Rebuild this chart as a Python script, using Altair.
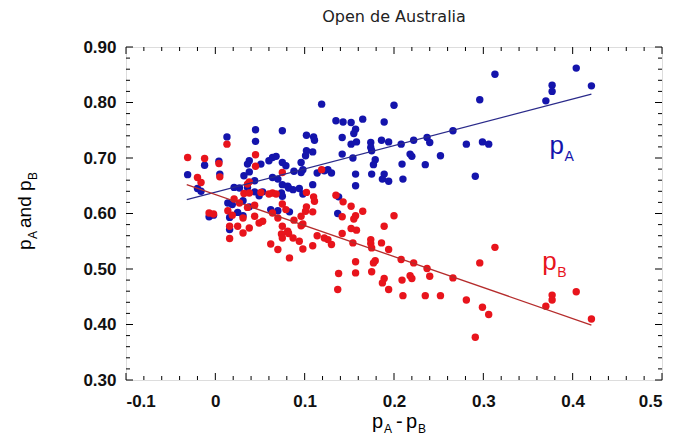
import altair as alt
import pandas as pd

TITLE = "Open de Australia"

# x = pA - pB, pA (blue), pB (red) for each match
diff = [0.313, 0.404, 0.421, 0.377, 0.377, 0.370, 0.296, 0.119, 0.200, 0.135,
        0.143, 0.152, 0.165, 0.189, 0.157, 0.155, 0.102, 0.110, 0.111, 0.142,
        0.152, 0.158, 0.174, 0.186, 0.194, 0.208, 0.222, 0.237, 0.240, 0.266,
        0.281, 0.299, 0.306, 0.174, 0.175, 0.102, 0.109, 0.101, 0.142, 0.154,
        0.179, 0.177, 0.218, 0.220, 0.252, 0.209, 0.235, 0.096, 0.098, 0.122,
        0.130, 0.114, 0.157, 0.175, 0.189, 0.187, 0.194, 0.210, 0.291, 0.157,
        0.109, 0.094, 0.098, 0.138, 0.137, 0.126,
        -0.031, -0.012, 0.004, 0.005, -0.020, -0.016, 0.013, 0.045, 0.045, 0.075,
        0.038, 0.036, 0.032, 0.038, 0.051, 0.064, 0.068, 0.060, 0.079, 0.075,
        0.088, 0.096, 0.064, 0.070, 0.044, 0.082, 0.087, 0.075, 0.081, 0.027,
        0.021, 0.036, 0.074, 0.075, 0.062, 0.070, 0.083, 0.049, 0.053, 0.031,
        0.031, 0.038, 0.016, 0.025, 0.016, -0.007, -0.002, 0.014, 0.019, 0.044]
p_A = [0.851, 0.862, 0.830, 0.831, 0.820, 0.803, 0.805, 0.797, 0.795, 0.767,
       0.765, 0.764, 0.770, 0.765, 0.752, 0.744, 0.741, 0.738, 0.732, 0.737,
       0.725, 0.729, 0.728, 0.732, 0.729, 0.725, 0.732, 0.737, 0.728, 0.749,
       0.725, 0.729, 0.725, 0.719, 0.713, 0.713, 0.711, 0.704, 0.707, 0.700,
       0.697, 0.688, 0.707, 0.703, 0.704, 0.689, 0.688, 0.692, 0.679, 0.677,
       0.673, 0.673, 0.671, 0.671, 0.671, 0.662, 0.658, 0.662, 0.667, 0.650,
       0.652, 0.645, 0.635, 0.630, 0.600, 0.679,
       0.670, 0.687, 0.694, 0.671, 0.645, 0.640, 0.738, 0.751, 0.730, 0.749,
       0.695, 0.689, 0.668, 0.675, 0.689, 0.701, 0.703, 0.695, 0.686, 0.692,
       0.676, 0.674, 0.665, 0.662, 0.659, 0.646, 0.643, 0.652, 0.649, 0.646,
       0.647, 0.647, 0.637, 0.631, 0.607, 0.605, 0.603, 0.632, 0.639, 0.623,
       0.596, 0.612, 0.593, 0.602, 0.571, 0.594, 0.597, 0.619, 0.616, 0.639]
p_B = [0.539, 0.459, 0.410, 0.453, 0.444, 0.433, 0.511, 0.679, 0.596, 0.633,
       0.621, 0.613, 0.604, 0.577, 0.596, 0.590, 0.638, 0.630, 0.622, 0.594,
       0.573, 0.570, 0.553, 0.547, 0.535, 0.517, 0.511, 0.501, 0.487, 0.484,
       0.444, 0.431, 0.418, 0.546, 0.538, 0.612, 0.603, 0.604, 0.564, 0.547,
       0.515, 0.511, 0.488, 0.483, 0.452, 0.480, 0.452, 0.595, 0.581, 0.556,
       0.544, 0.560, 0.513, 0.495, 0.483, 0.475, 0.463, 0.452, 0.377, 0.493,
       0.542, 0.550, 0.536, 0.492, 0.463, 0.553,
       0.701, 0.699, 0.690, 0.666, 0.665, 0.656, 0.725, 0.706, 0.685, 0.674,
       0.657, 0.653, 0.636, 0.637, 0.638, 0.637, 0.635, 0.635, 0.607, 0.617,
       0.588, 0.578, 0.601, 0.592, 0.615, 0.564, 0.556, 0.577, 0.568, 0.619,
       0.626, 0.611, 0.563, 0.556, 0.545, 0.535, 0.520, 0.583, 0.586, 0.592,
       0.565, 0.574, 0.577, 0.577, 0.555, 0.601, 0.599, 0.605, 0.597, 0.595]

# fitted lines (end points)
line_x = [-0.032, 0.421]
line_pA = [0.625, 0.815]
line_pB = [0.652, 0.399]

# in-plot labels
lab_x = [0.374, 0.366]
lab_y = [0.707, 0.498]

x_ticks = [-0.1, 0.0, 0.1, 0.2, 0.3, 0.4, 0.5]
y_ticks = [0.30, 0.40, 0.50, 0.60, 0.70, 0.80, 0.90]
x_minor = [-0.08, -0.06, -0.04, -0.02, 0.02, 0.04, 0.06, 0.08, 0.12, 0.14, 0.16, 0.18,
           0.22, 0.24, 0.26, 0.28, 0.32, 0.34, 0.36, 0.38, 0.42, 0.44, 0.46, 0.48]
y_minor = [0.32, 0.34, 0.36, 0.38, 0.42, 0.44, 0.46, 0.48, 0.52, 0.54, 0.56, 0.58,
           0.62, 0.64, 0.66, 0.68, 0.72, 0.74, 0.76, 0.78, 0.82, 0.84, 0.86, 0.88]

W, H = 536, 333
BLUE = "#1414ac"
RED = "#e8141c"
BLUE_LINE = "#2a2a8a"
RED_LINE = "#b52c2c"
FONT = "Liberation Sans"

pts = pd.DataFrame({"d": diff, "pA": p_A, "pB": p_B})
lines = pd.DataFrame({"d": line_x, "pA": line_pA, "pB": line_pB})

xs = alt.Scale(domain=[-0.1, 0.5], nice=False, zero=False)
ys = alt.Scale(domain=[0.3, 0.9], nice=False, zero=False)

x_axis = alt.Axis(values=x_ticks, title=None, ticks=False, domain=False, grid=False,
                  labelFont=FONT, labelFontSize=17, labelFontWeight="bold",
                  labelColor="#111111", labelPadding=13,
                  labelExpr="abs(datum.value) < 1e-9 ? '0' : (datum.value < 0 ? '-' + format(-datum.value, '.1f') : format(datum.value, '.1f'))")
y_axis = alt.Axis(values=y_ticks, title=None, ticks=False, domain=False, grid=False,
                  labelFont=FONT, labelFontSize=17, labelFontWeight="bold",
                  labelColor="#111111", labelPadding=10, format=".2f")

blue_pts = alt.Chart(pts).mark_circle(size=55, opacity=1, color=BLUE).encode(
    x=alt.X("d:Q", scale=xs, axis=x_axis),
    y=alt.Y("pA:Q", scale=ys, axis=y_axis),
)
red_pts = alt.Chart(pts).mark_circle(size=55, opacity=1, color=RED).encode(
    x=alt.X("d:Q", scale=xs), y=alt.Y("pB:Q", scale=ys)
)
blue_line = alt.Chart(lines).mark_line(color=BLUE_LINE, strokeWidth=1.3).encode(
    x=alt.X("d:Q", scale=xs), y=alt.Y("pA:Q", scale=ys)
)
red_line = alt.Chart(lines).mark_line(color=RED_LINE, strokeWidth=1.3).encode(
    x=alt.X("d:Q", scale=xs), y=alt.Y("pB:Q", scale=ys)
)

# ticks on all four sides, pointing inward
xt_major = pd.DataFrame({"v": x_ticks})
xt_minor = pd.DataFrame({"v": x_minor})
yt_major = pd.DataFrame({"v": y_ticks})
yt_minor = pd.DataFrame({"v": y_minor})


def xticks(df, ln):
    bottom = alt.Chart(df).mark_rule(color="black", strokeWidth=1).encode(
        x=alt.X("v:Q", scale=xs), y=alt.value(H), y2=alt.value(H - ln))
    top = alt.Chart(df).mark_rule(color="black", strokeWidth=1).encode(
        x=alt.X("v:Q", scale=xs), y=alt.value(0), y2=alt.value(ln))
    return [bottom, top]


def yticks(df, ln):
    left = alt.Chart(df).mark_rule(color="black", strokeWidth=1).encode(
        y=alt.Y("v:Q", scale=ys), x=alt.value(0), x2=alt.value(ln))
    right = alt.Chart(df).mark_rule(color="black", strokeWidth=1).encode(
        y=alt.Y("v:Q", scale=ys), x=alt.value(W - ln), x2=alt.value(W))
    return [left, right]


tick_layers = xticks(xt_major, 7) + xticks(xt_minor, 4) + yticks(yt_major, 7) + yticks(yt_minor, 4)

# p_A / p_B labels inside the plot
labA = pd.DataFrame({"x": [lab_x[0]], "y": [lab_y[0]]})
labB = pd.DataFrame({"x": [lab_x[1]], "y": [lab_y[1]]})


def plabel(df, sub, color):
    p = alt.Chart(df).mark_text(text="p", font=FONT, fontSize=26, color=color,
                                align="left", baseline="alphabetic").encode(
        x=alt.X("x:Q", scale=xs), y=alt.Y("y:Q", scale=ys))
    s = alt.Chart(df).mark_text(text=sub, font=FONT, fontSize=14, color=color,
                                align="left", baseline="alphabetic", dx=15, dy=7).encode(
        x=alt.X("x:Q", scale=xs), y=alt.Y("y:Q", scale=ys))
    return [p, s]


label_layers = plabel(labA, "A", BLUE) + plabel(labB, "B", RED)


def txt(t, px, py, fs, angle=0, align="left", font=FONT, color="black"):
    kw = dict(text=t, font=font, fontSize=fs, color=color, align=align,
              baseline="alphabetic")
    if angle:
        kw["angle"] = angle
    return alt.Chart(pts).transform_filter("datum.d == 0.313").mark_text(**kw).encode(
        x=alt.value(px), y=alt.value(py))


axis_titles = [
    txt(TITLE, W / 2, -25, 16, align="center", font="DejaVu Sans", color="#222222"),
    txt("p", 246, 381, 20), txt("A", 258, 386, 12), txt("-", 270, 381, 20),
    txt("p", 280, 381, 20), txt("B", 292, 386, 12),
    txt("p", -95, 203, 19, 270), txt("A", -89, 192, 12, 270),
    txt("and", -95, 181, 19, 270), txt("p", -95, 144, 19, 270),
    txt("B", -89, 133, 12, 270),
]

chart = alt.layer(
    *tick_layers, blue_pts, red_pts, blue_line, red_line, *label_layers, *axis_titles
).properties(
    width=W, height=H,
    autosize=alt.AutoSizeParams(type="none"),
    padding={"left": 118, "top": 39, "right": 4, "bottom": 55},
).configure_view(stroke="black", strokeWidth=1).configure(background="white")

chart.save("out.html", embed_options={"renderer": "svg", "actions": False})
